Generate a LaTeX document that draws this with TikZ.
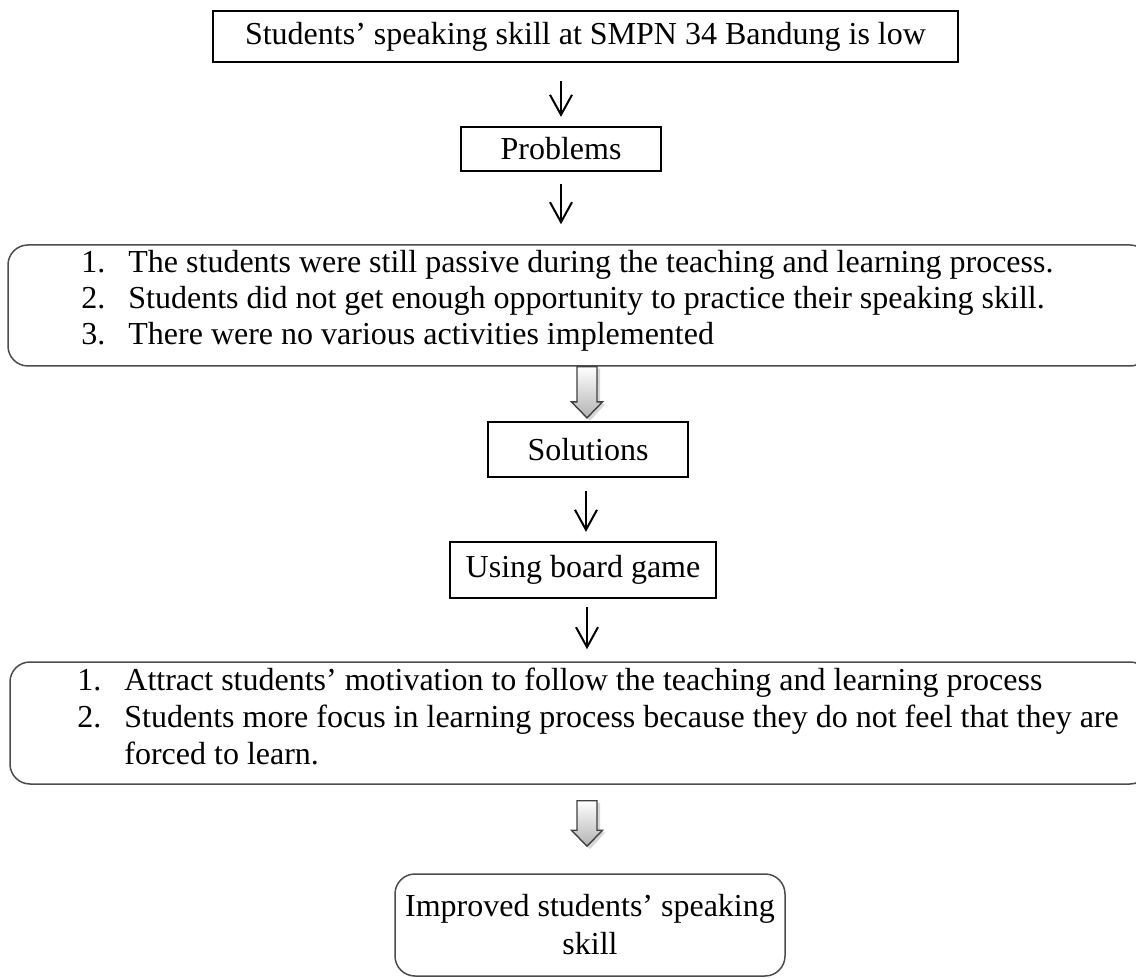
\documentclass[tikz,border=0pt]{standalone}
\usepackage{fontspec}
\setmainfont{Liberation Serif}
\usetikzlibrary{arrows.meta,calc}
\newcommand{\hollowarrow}[2]{%
  \fill[black!45,opacity=0.35] ($(#1)+(-7,2)$) -- ($(#2)+(-7,-14)$) -- ($(#2)+(-12.5,-14)$) -- ($(#2)+(3,3)$) -- ($(#2)+(18.5,-14)$) -- ($(#2)+(13,-14)$) -- ($(#1)+(13,2)$) -- cycle;
  \draw[hollow] ($(#1)+(-10,0)$) -- ($(#2)+(-10,-16)$) -- ($(#2)+(-15.5,-16)$) -- (#2) -- ($(#2)+(15.5,-16)$) -- ($(#2)+(10,-16)$) -- ($(#1)+(10,0)$) -- cycle;}
\begin{document}
\begin{tikzpicture}[x=0.5pt,y=-0.5pt,
  font=\fontsize{16}{18}\selectfont,
  sqbox/.style={draw, line width=1.1pt, inner sep=0pt},
  rbox/.style={draw=black!70, line width=0.75pt, rounded corners=10pt, inner sep=0pt},
  thinarrow/.style={line width=1pt, -{Straight Barb[length=10pt,width=11pt,line width=1pt]}},
  txt/.style={inner sep=0pt, anchor=base west},
  hollow/.style={draw=black!75, line width=0.7pt, top color=white, bottom color=black!30}
]
\useasboundingbox (0,0) rectangle (1136,978);
\clip (0,0) rectangle (1136,978);

% boxes
\node[sqbox, line width=1.35pt, minimum width=372.5pt, minimum height=25.5pt] (top) at (585.5,36.5) {Students’ speaking skill at SMPN 34 Bandung is low};
\node[sqbox, minimum width=100pt, minimum height=22pt] (prob) at (561,149) {Problems};
\node[rbox, minimum width=571pt, minimum height=60.5pt] (l1) at (579,305.5) {};
\node[sqbox, minimum width=100pt, minimum height=27.5pt] (sol) at (588,449.5) {Solutions};
\node[sqbox, minimum width=133pt, minimum height=28pt] (board) at (583,570) {Using board game};
\node[rbox, minimum width=570pt, minimum height=61pt] (l2) at (580,723) {};
\node[rbox, minimum width=195pt, minimum height=51pt, align=center] (fin) at (590,925) {Improved students’ speaking\\[1pt] skill};

% list 1 text
\node[txt] (n11) at (81,273) {1.};
\node[txt] (t11) at (128,273) {The students were still passive during the teaching and learning process.};
\node[txt] (n12) at (81,309) {2.};
\node[txt] (t12) at (128,309) {Students did not get enough opportunity to practice their speaking skill.};
\node[txt] (n13) at (81,345) {3.};
\node[txt] (t13) at (128,345) {There were no various activities implemented};

% list 2 text
\node[txt] (n21) at (77,690) {1.};
\node[txt] (t21) at (124,690) {Attract students’ motivation to follow the teaching and learning process};
\node[txt] (n22) at (77,727) {2.};
\node[txt] (t22) at (124,727) {Students more focus in learning process because they do not feel that they are};
\node[txt] (t23) at (124,764) {forced to learn.};

% thin arrows
\draw[thinarrow, shorten <=9pt, shorten >=4.5pt] (top.south -| prob.north) -- (prob.north);
\draw[thinarrow, shorten <=6pt, shorten >=10pt] (prob.south) -- (prob.south |- l1.north);
\draw[thinarrow, shorten <=6.5pt, shorten >=4.5pt] (sol.south) ++(-2,0) coordinate (a3s) (a3s) -- (a3s |- board.north);
\draw[thinarrow, shorten <=4pt, shorten >=6pt] (board.south) ++(4,0) coordinate (a4s) (a4s) -- (a4s |- l2.north);

% hollow arrows
\path (l1.south) ++(8,0) coordinate (h1s);
\path (h1s |- sol.north) ++(0,-3) coordinate (h1e);
\hollowarrow{h1s}{h1e}
\path (l2.south) ++(7,16) coordinate (h2s);
\path (h2s |- fin.north) ++(0,-27) coordinate (h2e);
\hollowarrow{h2s}{h2e}
\end{tikzpicture}
\end{document}
